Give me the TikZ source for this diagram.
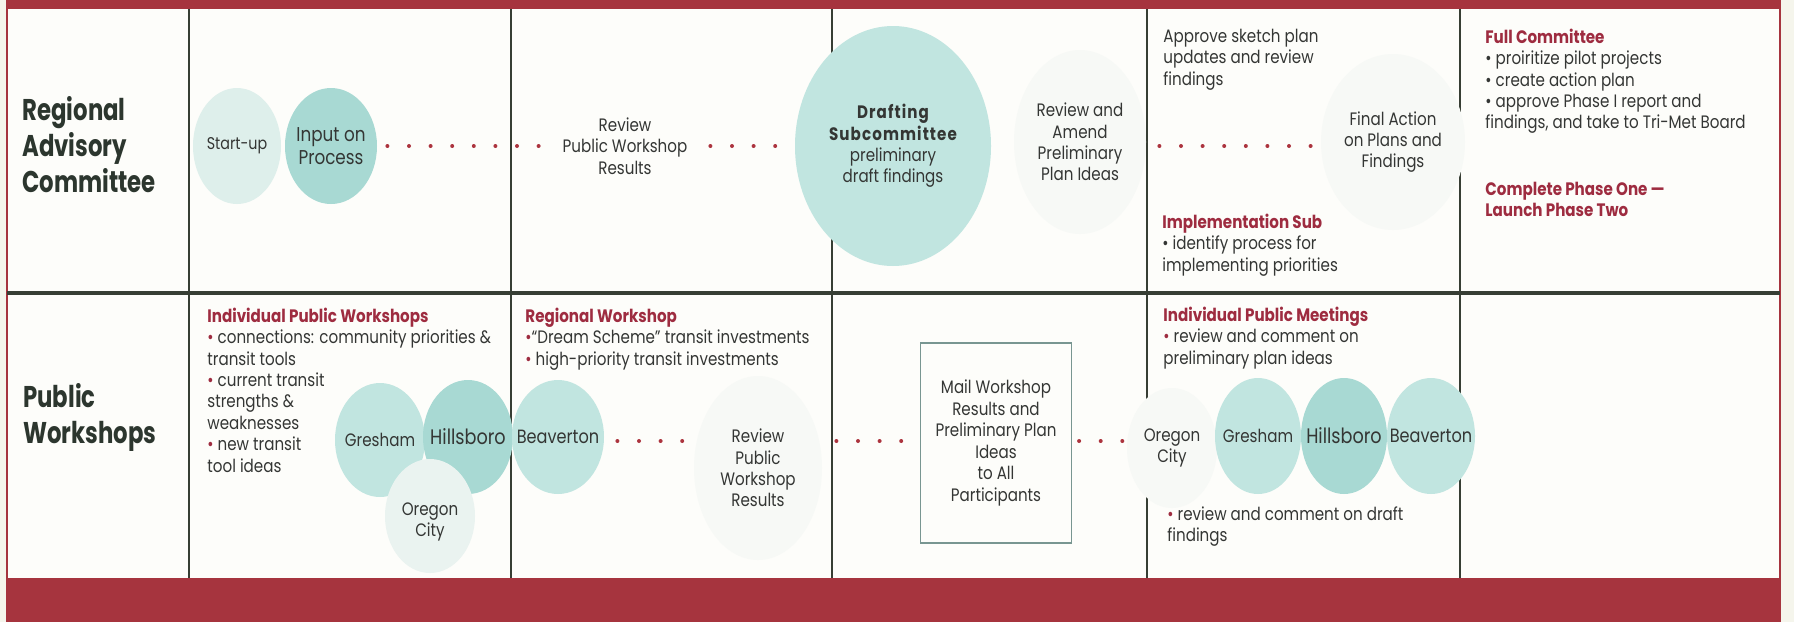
\documentclass[tikz,border=0pt]{standalone}
\usepackage{fontspec}
\setmainfont{Poppins}[FakeStretch=0.84]
\newfontfamily\headfont{Poppins}[FakeStretch=0.76]
\usetikzlibrary{shapes.geometric}
\pgfdeclarelayer{bg}
\pgfsetlayers{bg,main}
\definecolor{bandred}{RGB}{166,52,62}
\definecolor{redtxt}{RGB}{158,44,64}
\definecolor{dotred}{RGB}{172,52,62}
\definecolor{gridc}{RGB}{55,62,52}
\definecolor{txt}{RGB}{52,54,52}
\definecolor{headc}{RGB}{44,54,46}
\definecolor{paper}{RGB}{253,253,250}
\definecolor{edgec}{RGB}{245,245,236}
\definecolor{tealA}{RGB}{168,217,211}
\definecolor{tealB}{RGB}{193,229,224}
\definecolor{tealC}{RGB}{222,239,235}
\definecolor{tealD}{RGB}{234,243,240}
\definecolor{paleE}{RGB}{247,249,246}
\definecolor{boxc}{RGB}{120,150,145}
\newcommand{\rb}{\textcolor{redtxt}{•}}
\newcommand{\hd}[1]{\textcolor{redtxt}{\bfseries #1}}
\newcommand{\dsub}[1]{{\bfseries\addfontfeature{LetterSpace=6}#1}}
\begin{document}
\begin{tikzpicture}[x=0.5pt,y=-0.5pt,
  bubble/.style={ellipse, inner sep=0pt, draw=none},
  lbl/.style={font=\fontsize{9}{10.7}\selectfont, text=txt, align=center, inner sep=0pt},
  biglbl/.style={font=\fontsize{10.5}{12}\selectfont, text=txt, align=center, inner sep=0pt},
  midlbl/.style={font=\fontsize{9.6}{11}\selectfont, text=txt, align=center, inner sep=0pt},
  smalllbl/.style={font=\fontsize{8.5}{10}\selectfont, text=txt, align=center, inner sep=0pt},
  body/.style={font=\fontsize{9}{10.7}\selectfont, text=txt, inner sep=0pt, align=left, anchor=north west},
  head/.style={font=\headfont\bfseries\fontsize{15}{18}\selectfont, text=headc, inner sep=0pt, align=left, anchor=north west},
  dotconn/.style={draw=dotred, line width=2pt, line cap=round, dash pattern=on 0pt off 10.8pt},
  vline/.style={draw=gridc, line width=1.3pt},
  hline/.style={draw=gridc, line width=2pt},
  mailbox/.style={draw=boxc, line width=0.6pt, minimum width=75.5pt, minimum height=100pt, font=\fontsize{9}{10.8}\selectfont, text=txt, align=center, inner sep=0pt}
]
\useasboundingbox (0,0) rectangle (1794,622);

% ---------- row 1 ----------
\node[head] (rac) at (22,95) {\strut Regional\\Advisory\\Committee};
\node[bubble, fill=tealC, minimum width=44pt, minimum height=58pt, label={[smalllbl]center:Start-up}] (startup) at (237,146) {};
\node[bubble, fill=tealA, minimum width=46pt, minimum height=58pt, label={[biglbl, font=\fontsize{10}{11.5}\selectfont]center:Input on\\Process}] (input) at (331,146) {};
\node[lbl, minimum width=77pt] (review1) at (625,146) {Review\\Public Workshop\\Results};
\node[bubble, fill=tealB, minimum width=98pt, minimum height=120pt, label={[lbl]center:\dsub{Drafting}\\\dsub{Subcommittee}\\preliminary\\draft findings}] (drafting) at (893,146) {};
\node[bubble, fill=paleE, minimum width=66pt, minimum height=92pt, label={[lbl]center:Review and\\Amend\\Preliminary\\Plan Ideas}] (amend) at (1080,142) {};
\node[bubble, fill=paleE, minimum width=72pt, minimum height=88pt, label={[lbl]center:Final Action\\on Plans and\\Findings}] (final) at (1393,142) {};
\node[body] (approve) at (1163,27) {\strut Approve sketch plan\\updates and review\\findings};
\node[body] (implsub) at (1162,213) {\strut\hd{Implementation Sub}\\• identify process for\\implementing priorities};
\node[body] (fullc) at (1485,28) {\strut\hd{Full Committee}\\• proiritize pilot projects\\• create action plan\\• approve Phase I report and\\findings, and take to Tri-Met Board};
\node[body] (phase) at (1485,180) {\strut\hd{Complete Phase One —}\\\hd{Launch Phase Two}};

% ---------- row 2 ----------
\node[head] (pw) at (23,382) {\strut Public\\Workshops};
\node[body] (ipw) at (207,307) {\strut\hd{Individual Public Workshops}\\\rb{} connections: community priorities \&\\transit tools\\\rb{} current transit\\strengths \&\\weaknesses\\\rb{} new transit\\tool ideas};
\node[bubble, fill=tealB, minimum width=45pt, minimum height=57pt, label={[lbl]center:Gresham}] (gresham1) at (380,440) {};
\node[bubble, fill=tealA, minimum width=45pt, minimum height=57pt, label={[biglbl]center:Hillsboro}] (hillsboro1) at (468,437) {};
\node[bubble, fill=tealD, minimum width=45pt, minimum height=57pt, label={[lbl, yshift=-3pt]center:Oregon\\City}] (oregon1) at (430,516) {};
\node[bubble, fill=tealB, minimum width=46pt, minimum height=57pt, label={[midlbl]center:Beaverton}] (beaverton1) at (558,437) {};
\node[body] (rw) at (525,307) {\strut\hd{Regional Workshop}\\\rb“Dream Scheme” transit investments\\\rb{} high-priority transit investments};
\node[bubble, fill=paleE, minimum width=64pt, minimum height=92pt, label={[lbl]center:Review\\Public\\Workshop\\Results}] (review2) at (758,468) {};
\node[mailbox] (mail) at (996,443) {Mail Workshop\\Results and\\Preliminary Plan\\Ideas\\to All\\Participants};
\node[bubble, fill=paleE, minimum width=45pt, minimum height=60pt, label={[lbl]center:Oregon\\City}] (oregon2) at (1172,448) {};
\node[bubble, fill=tealB, minimum width=43pt, minimum height=58pt, label={[lbl]center:Gresham}] (gresham2) at (1258,436) {};
\node[bubble, fill=tealA, minimum width=43pt, minimum height=58pt, label={[biglbl]center:Hillsboro}] (hillsboro2) at (1344,436) {};
\node[bubble, fill=tealB, minimum width=44pt, minimum height=58pt, label={[midlbl]center:Beaverton}] (beaverton2) at (1431,436) {};
\node[body] (ipm) at (1163,306) {\strut\hd{Individual Public Meetings}\\\rb{} review and comment on\\preliminary plan ideas};
\node[body] (draftrev) at (1167,505) {\strut\rb{} review and comment on draft\\findings};

% ---------- frame, grid and connectors (behind) ----------
\begin{pgfonlayer}{bg}
  \fill[edgec] (0,0) rectangle (1794,622);
  \fill[paper] (7,9) rectangle (1780,578);
  \fill[bandred] (6,0) rectangle (1781,9);
  \fill[bandred] (6,578) rectangle (1781,622);
  \draw[bandred, line width=1.2pt] (7,0) -- (7,578);
  \draw[bandred, line width=1pt] (1780,0) -- (1780,578);
  \draw[hline] (7,293) -- (1780,293);
  \foreach \gx in {189,511,832,1147,1460} \draw[vline] (\gx,9) -- (\gx,578);
  \draw[dotconn] ([xshift=5pt]input.east) -- ([xshift=-4pt]review1.west);
  \draw[dotconn] ([xshift=4pt]review1.east) -- ([xshift=1pt]drafting.west);
  \draw[dotconn] ([shift={(6.5pt,-2pt)}]amend.east) -- ([shift={(-4.5pt,-2pt)}]final.west);
  \draw[dotconn] ([shift={(6.5pt,-2pt)}]beaverton1.east) -- ([shift={(-5pt,13.5pt)}]review2.west);
  \draw[dotconn] ([shift={(7pt,13.5pt)}]review2.east) -- ([shift={(-8.5pt,1pt)}]mail.west);
  \draw[dotconn] ([shift={(3.5pt,1pt)}]mail.east) -- ([shift={(-0.8pt,3.5pt)}]oregon2.west);
\end{pgfonlayer}
\end{tikzpicture}
\end{document}
